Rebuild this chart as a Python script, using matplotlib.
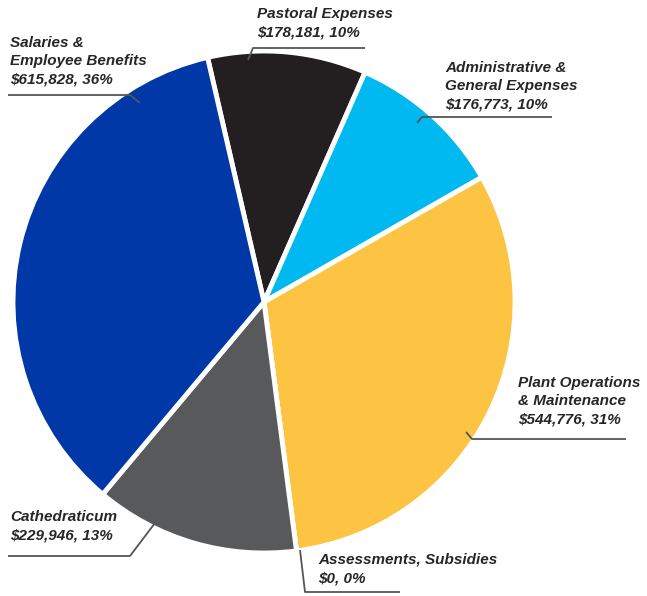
import matplotlib.pyplot as plt

# Datos del gráfico (en orden horario desde arriba)
categorias = ["Pastoral Expenses", "Administrative &\nGeneral Expenses",
              "Plant Operations\n& Maintenance", "Assessments, Subsidies",
              "Cathedraticum", "Salaries &\nEmployee Benefits"]
montos = [178181, 176773, 544776, 0, 229946, 615828]
porcentajes = [10, 10, 31, 0, 13, 36]
colores = ["#231f20", "#00b9f1", "#fdc342", "#fdc342", "#58595b", "#0038a8"]

W, H = 647, 596

fig = plt.figure(figsize=(W / 100, H / 100), dpi=100)
ax = fig.add_axes([0, 0, 1, 1])

# y en píxeles de arriba hacia abajo -> coordenadas del eje
def py(y):
    return H - y

ax.pie(montos, colors=colores, startangle=103, counterclock=False,
       center=(264, py(302)), radius=251, frame=True,
       wedgeprops=dict(edgecolor="white", linewidth=3.5))
ax.set_xlim(0, W)
ax.set_ylim(0, H)
ax.set_aspect("equal")
ax.axis("off")

# Etiquetas: (x texto, y primera línea, líneas guía)
etiquetas = [
    (257, 7, [(365, 48), (253, 48), (248, 60)]),
    (445, 61, [(552, 117), (422, 117), (417, 123)]),
    (518, 376, [(626, 439), (472, 439), (466, 432)]),
    (318, 553, [(400, 592), (305, 592), (300, 550)]),
    (10, 510, [(8, 556), (130, 556), (155, 523)]),
    (10, 36, [(8, 95), (130, 95), (140, 103)]),
]

for (tx, ty, linea), cat, monto, pct in zip(etiquetas, categorias, montos, porcentajes):
    texto = f"{cat}\n${monto:,}, {pct}%"
    ax.text(tx, py(ty), texto, ha="left", va="top", fontsize=11,
            fontfamily="Liberation Sans", fontweight="bold", fontstyle="italic",
            color="#262626", linespacing=1.4)
    xs = [p[0] for p in linea]
    ys = [py(p[1]) for p in linea]
    ax.plot(xs, ys, color="#555555", linewidth=1.3, solid_capstyle="butt")

fig.savefig("out.png", dpi=100)
